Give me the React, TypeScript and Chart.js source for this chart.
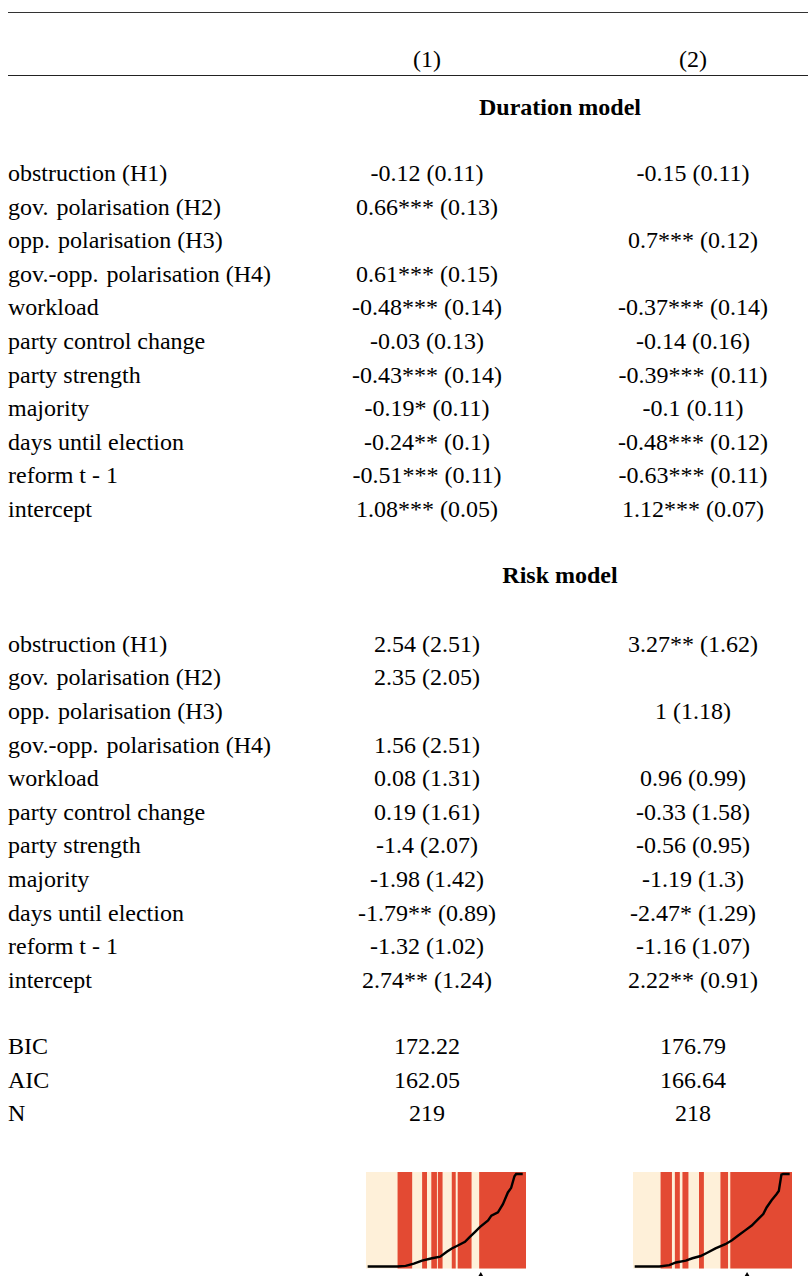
import React, { useEffect, useRef } from "react";
import { Chart, registerables } from "chart.js";

Chart.register(...registerables);

// ---------- table data ----------
const columnHeads = ["(1)", "(2)"];
const sectionTitles = ["Duration model", "Risk model"];
const rowLabels = [
  "obstruction (H1)",
  "gov. \u200Apolarisation (H2)",
  "opp. \u200Apolarisation (H3)",
  "gov.-opp. \u200Apolarisation (H4)",
  "workload",
  "party control change",
  "party strength",
  "majority",
  "days until election",
  "reform t - 1",
  "intercept",
];
const durationM1 = ["-0.12 (0.11)", "0.66*** (0.13)", "", "0.61*** (0.15)", "-0.48*** (0.14)", "-0.03 (0.13)", "-0.43*** (0.14)", "-0.19* (0.11)", "-0.24** (0.1)", "-0.51*** (0.11)", "1.08*** (0.05)"];
const durationM2 = ["-0.15 (0.11)", "", "0.7*** (0.12)", "", "-0.37*** (0.14)", "-0.14 (0.16)", "-0.39*** (0.11)", "-0.1 (0.11)", "-0.48*** (0.12)", "-0.63*** (0.11)", "1.12*** (0.07)"];
const riskM1 = ["2.54 (2.51)", "2.35 (2.05)", "", "1.56 (2.51)", "0.08 (1.31)", "0.19 (1.61)", "-1.4 (2.07)", "-1.98 (1.42)", "-1.79** (0.89)", "-1.32 (1.02)", "2.74** (1.24)"];
const riskM2 = ["3.27** (1.62)", "", "1 (1.18)", "", "0.96 (0.99)", "-0.33 (1.58)", "-0.56 (0.95)", "-1.19 (1.3)", "-2.47* (1.29)", "-1.16 (1.07)", "2.22** (0.91)"];
const fitLabels = ["BIC", "AIC", "N"];
const fitM1 = ["172.22", "162.05", "219"];
const fitM2 = ["176.79", "166.64", "218"];

// ---------- separation plot data ----------
const sepN1 = 219;
const sepBands1: [number, number][] = [
  [42.9, 63.2], [76.8, 83.5], [89.4, 97.1], [98.4, 104.8], [117.4, 122.8], [125.5, 144.5], [154.9, 219],
];
const sepLineX1 = [2.3, 42.9, 54.2, 65.5, 76.8, 90.3, 101.6, 110.6, 117.4, 126.4, 135.5, 142.2, 149, 155.8, 167.1, 171.6, 180.6, 187.4, 194.2, 198.7, 203.2, 205.5, 214.5];
const sepLineY1 = [0, 0, 0.007, 0.03, 0.064, 0.089, 0.106, 0.16, 0.195, 0.23, 0.266, 0.32, 0.372, 0.426, 0.497, 0.55, 0.585, 0.674, 0.8, 0.85, 0.975, 1, 1];
const sepMarker1 = 157.1;

const sepN2 = 218;
const sepBands2: [number, number][] = [
  [37.5, 53.4], [57.4, 64.2], [67.8, 76], [90.5, 97.2], [119.9, 130.3], [133.4, 218],
];
const sepLineX2 = [2.3, 36.2, 49.8, 58.8, 72.4, 81.4, 92.7, 101.8, 113.1, 126.6, 135.7, 144.7, 153.8, 162.8, 171.9, 178.6, 183.2, 190, 196.7, 199.9, 203.5, 205.8, 214.8];
const sepLineY2 = [0, 0, 0.014, 0.043, 0.064, 0.089, 0.113, 0.149, 0.195, 0.241, 0.284, 0.337, 0.39, 0.443, 0.514, 0.567, 0.638, 0.716, 0.78, 0.816, 0.993, 1, 1];
const sepMarker2 = 156.4;

const LIGHT = "#fef0d9";
const RED = "#e34a33";
const Y_MIN = -0.021;
const Y_MAX = 1.021;
const Y_AXIS_MIN = -0.2;
const MARKER_Y = -0.125;

type SepProps = {
  n: number;
  bands: [number, number][];
  lineX: number[];
  lineY: number[];
  marker: number;
  left: number;
  top: number;
  boxW: number;
  boxH: number;
};

function SepPlot({ n, bands, lineX, lineY, marker, left, top, boxW, boxH }: SepProps) {
  const ref = useRef<HTMLCanvasElement | null>(null);
  const pad = 5;
  const cw = boxW + pad * 2;
  const ch = 125;
  const areaH = (boxH * (Y_MAX - Y_AXIS_MIN)) / (Y_MAX - Y_MIN);
  useEffect(() => {
    if (!ref.current) return;
    const bandPts: { x: number; y: number }[] = [];
    bands.forEach(([s, e]) => {
      bandPts.push({ x: s, y: Y_MIN }, { x: s, y: Y_MAX }, { x: e, y: Y_MAX }, { x: e, y: Y_MIN });
    });
    const chart = new Chart(ref.current, {
      type: "line",
      data: {
        datasets: [
          {
            data: [{ x: 0, y: Y_MAX }, { x: n, y: Y_MAX }],
            fill: { value: Y_MIN },
            backgroundColor: LIGHT,
            borderWidth: 0,
            pointRadius: 0,
            order: 4,
          },
          {
            data: bandPts,
            fill: { value: Y_MIN },
            backgroundColor: RED,
            borderWidth: 0,
            pointRadius: 0,
            order: 3,
          },
          {
            data: lineX.map((x, i) => ({ x, y: lineY[i] })),
            fill: false,
            borderColor: "#000",
            borderWidth: 2.4,
            pointRadius: 0,
            tension: 0,
            order: 2,
          },
          {
            data: [{ x: marker, y: MARKER_Y }],
            showLine: false,
            pointStyle: "triangle",
            pointRadius: 6,
            backgroundColor: "#000",
            borderColor: "#000",
            borderWidth: 0,
            order: 1,
          } as any,
        ],
      },
      options: {
        animation: false,
        responsive: false,
        devicePixelRatio: 1,
        layout: { padding: { left: pad, right: pad, top: pad, bottom: ch - pad - areaH } },
        scales: {
          x: { type: "linear", min: 0, max: n, display: false },
          y: { type: "linear", min: Y_AXIS_MIN, max: Y_MAX, display: false },
        },
        plugins: { legend: { display: false }, tooltip: { enabled: false } },
        events: [],
      },
    });
    return () => chart.destroy();
  }, []);
  return (
    <canvas
      ref={ref}
      width={cw}
      height={ch}
      style={{ position: "absolute", left: left - pad, top: top - pad, width: cw, height: ch }}
    />
  );
}

const FONT = "'Liberation Serif', 'Times New Roman', serif";
const FS = 24;
const COL1 = 427;
const COL2 = 693;
const SPAN = 560;

function Txt({ x, base, align, bold, children }: { x: number; base: number; align: "left" | "center"; bold?: boolean; children: React.ReactNode }) {
  const style: React.CSSProperties = {
    position: "absolute",
    top: base - 20,
    lineHeight: "24px",
    fontSize: FS,
    whiteSpace: "pre",
    fontWeight: bold ? "bold" : "normal",
    color: "#000",
  };
  style.left = x;
  if (align === "center") style.transform = "translateX(-50%)";
  return <div style={style}>{children}</div>;
}

export default function App() {
  const rowStep = 33.6;
  const durBase = 181;
  const riskBase = 651.7;
  const fitBase = 1054;
  const els: React.ReactNode[] = [];
  rowLabels.forEach((lab, i) => {
    const b1 = durBase + rowStep * i;
    const b2 = riskBase + rowStep * i;
    els.push(<Txt key={"dl" + i} x={8} base={b1} align="left">{lab}</Txt>);
    els.push(<Txt key={"d1" + i} x={COL1} base={b1} align="center">{durationM1[i]}</Txt>);
    els.push(<Txt key={"d2" + i} x={COL2} base={b1} align="center">{durationM2[i]}</Txt>);
    els.push(<Txt key={"rl" + i} x={8} base={b2} align="left">{lab}</Txt>);
    els.push(<Txt key={"r1" + i} x={COL1} base={b2} align="center">{riskM1[i]}</Txt>);
    els.push(<Txt key={"r2" + i} x={COL2} base={b2} align="center">{riskM2[i]}</Txt>);
  });
  fitLabels.forEach((lab, i) => {
    const b = fitBase + rowStep * i;
    els.push(<Txt key={"fl" + i} x={8} base={b} align="left">{lab}</Txt>);
    els.push(<Txt key={"f1" + i} x={COL1} base={b} align="center">{fitM1[i]}</Txt>);
    els.push(<Txt key={"f2" + i} x={COL2} base={b} align="center">{fitM2[i]}</Txt>);
  });
  return (
    <div
      style={{
        position: "absolute",
        left: 0,
        top: 0,
        width: 808,
        height: 1276,
        overflow: "hidden",
        background: "#fff",
        fontFamily: FONT,
      }}
    >
      <div style={{ position: "absolute", left: 8, top: 11.5, width: 800, height: 1.3, background: "#333" }} />
      <div style={{ position: "absolute", left: 8, top: 74.5, width: 800, height: 1.3, background: "#222" }} />
      <Txt x={COL1} base={66.7} align="center">{columnHeads[0]}</Txt>
      <Txt x={COL2} base={66.7} align="center">{columnHeads[1]}</Txt>
      <Txt x={SPAN} base={115} align="center" bold>{sectionTitles[0]}</Txt>
      <Txt x={SPAN} base={583.3} align="center" bold>{sectionTitles[1]}</Txt>
      {els}
      <SepPlot n={sepN1} bands={sepBands1} lineX={sepLineX1} lineY={sepLineY1} marker={sepMarker1} left={365} top={1171} boxW={162} boxH={98} />
      <SepPlot n={sepN2} bands={sepBands2} lineX={sepLineX2} lineY={sepLineY2} marker={sepMarker2} left={632} top={1171} boxW={161} boxH={98} />
    </div>
  );
}
